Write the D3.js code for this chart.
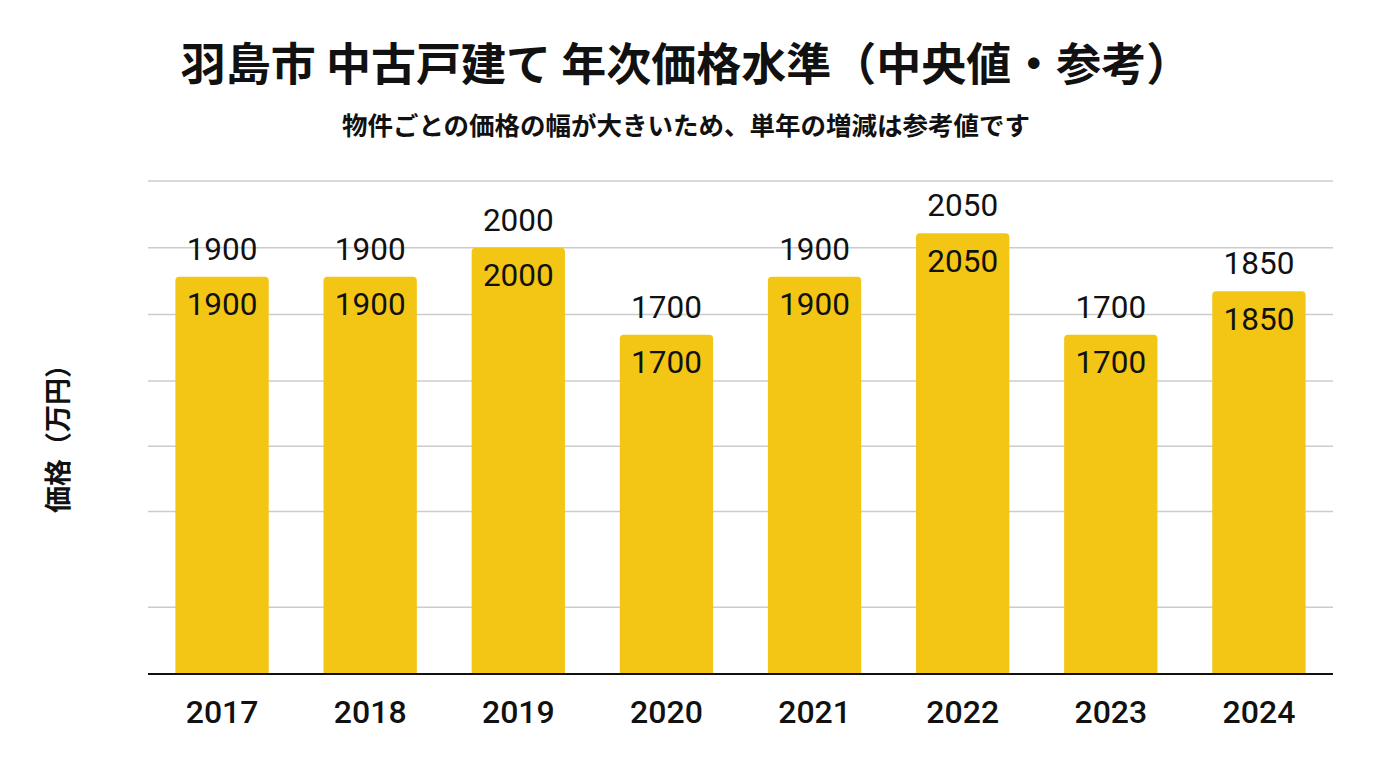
<!DOCTYPE html>
<html>
<head>
<meta charset="utf-8">
<script src="https://cdn.jsdelivr.net/npm/d3@7"></script>
<style>
  html, body { margin: 0; padding: 0; background: #ffffff; }
  svg { display: block; }
</style>
</head>
<body>
<svg id="chart" width="1376" height="768"></svg>
<script>
const years = ["2017", "2018", "2019", "2020", "2021", "2022", "2023", "2024"];
const prices = [1900, 1900, 2000, 1700, 1900, 2050, 1700, 1850];
const gridValues = [760, 1090, 1315, 1540, 1770, 2000, 2230];
const titleText = "羽島市 中古戸建て 年次価格水準（中央値・参考）";
const subtitleText = "物件ごとの価格の幅が大きいため、単年の増減は参考値です";
const yLabelText = "価格（万円）";

const svg = d3.select("#chart");
const cjk = "'Noto Sans CJK JP', 'Noto Sans', sans-serif";
const num = "Roboto, 'Noto Sans', sans-serif";

const x = d3.scaleBand().domain(years).range([148, 1333]).paddingInner(0.37).paddingOuter(0.185);
const y = d3.scaleLinear().domain([530, 2230]).range([674, 181]);

// gridlines
svg.append("g").selectAll("line").data(gridValues).join("line")
  .attr("x1", 148).attr("x2", 1333)
  .attr("y1", d => y(d)).attr("y2", d => y(d))
  .attr("stroke", "#cccccc").attr("stroke-width", 1.5);

// bars with rounded top corners
const r = 4;
svg.append("g").selectAll("path").data(prices).join("path")
  .attr("d", (d, i) => {
    const x0 = x(years[i]), w = x.bandwidth(), top = y(d), bot = y.range()[0];
    return `M${x0},${bot}V${top + r}Q${x0},${top} ${x0 + r},${top}H${x0 + w - r}Q${x0 + w},${top} ${x0 + w},${top + r}V${bot}Z`;
  })
  .attr("fill", "#F3C515");

// baseline axis
const xAxis = d3.axisBottom(x).tickSize(0).tickPadding(0);
const gx = svg.append("g").attr("transform", `translate(0,${y.range()[0]})`).call(xAxis);
gx.select(".domain").attr("stroke", "#111").attr("stroke-width", 2).attr("d", "M148,0H1333");
gx.selectAll(".tick text")
  .attr("y", 49).attr("dy", null)
  .attr("font-family", num).attr("font-size", 32).attr("font-weight", 500).attr("fill", "#111");

// value labels above bars
svg.append("g").selectAll("text").data(prices).join("text")
  .attr("x", (d, i) => x(years[i]) + x.bandwidth() / 2)
  .attr("y", d => y(d) - 17)
  .attr("text-anchor", "middle")
  .attr("font-family", num).attr("font-size", 31.5).attr("fill", "#111")
  .text(d => d);

// value labels inside bars
svg.append("g").selectAll("text").data(prices).join("text")
  .attr("x", (d, i) => x(years[i]) + x.bandwidth() / 2)
  .attr("y", d => y(d) + 38.5)
  .attr("text-anchor", "middle")
  .attr("font-family", num).attr("font-size", 31.5).attr("fill", "#111")
  .text(d => d);

// title
svg.append("text").attr("x", 686).attr("y", 81).attr("text-anchor", "middle")
  .attr("font-family", cjk).attr("font-size", 45).attr("font-weight", 700).attr("fill", "#111")
  .text(titleText);

// subtitle
svg.append("text").attr("x", 686).attr("y", 135).attr("text-anchor", "middle")
  .attr("font-family", cjk).attr("font-size", 25.5).attr("font-weight", 700).attr("fill", "#111")
  .text(subtitleText);

// y-axis label
svg.append("text")
  .attr("transform", "translate(56,432) rotate(-90)")
  .attr("text-anchor", "middle").attr("dominant-baseline", "central")
  .attr("font-family", cjk).attr("font-size", 27).attr("font-weight", 700).attr("fill", "#111")
  .text(yLabelText);
</script>
</body>
</html>
